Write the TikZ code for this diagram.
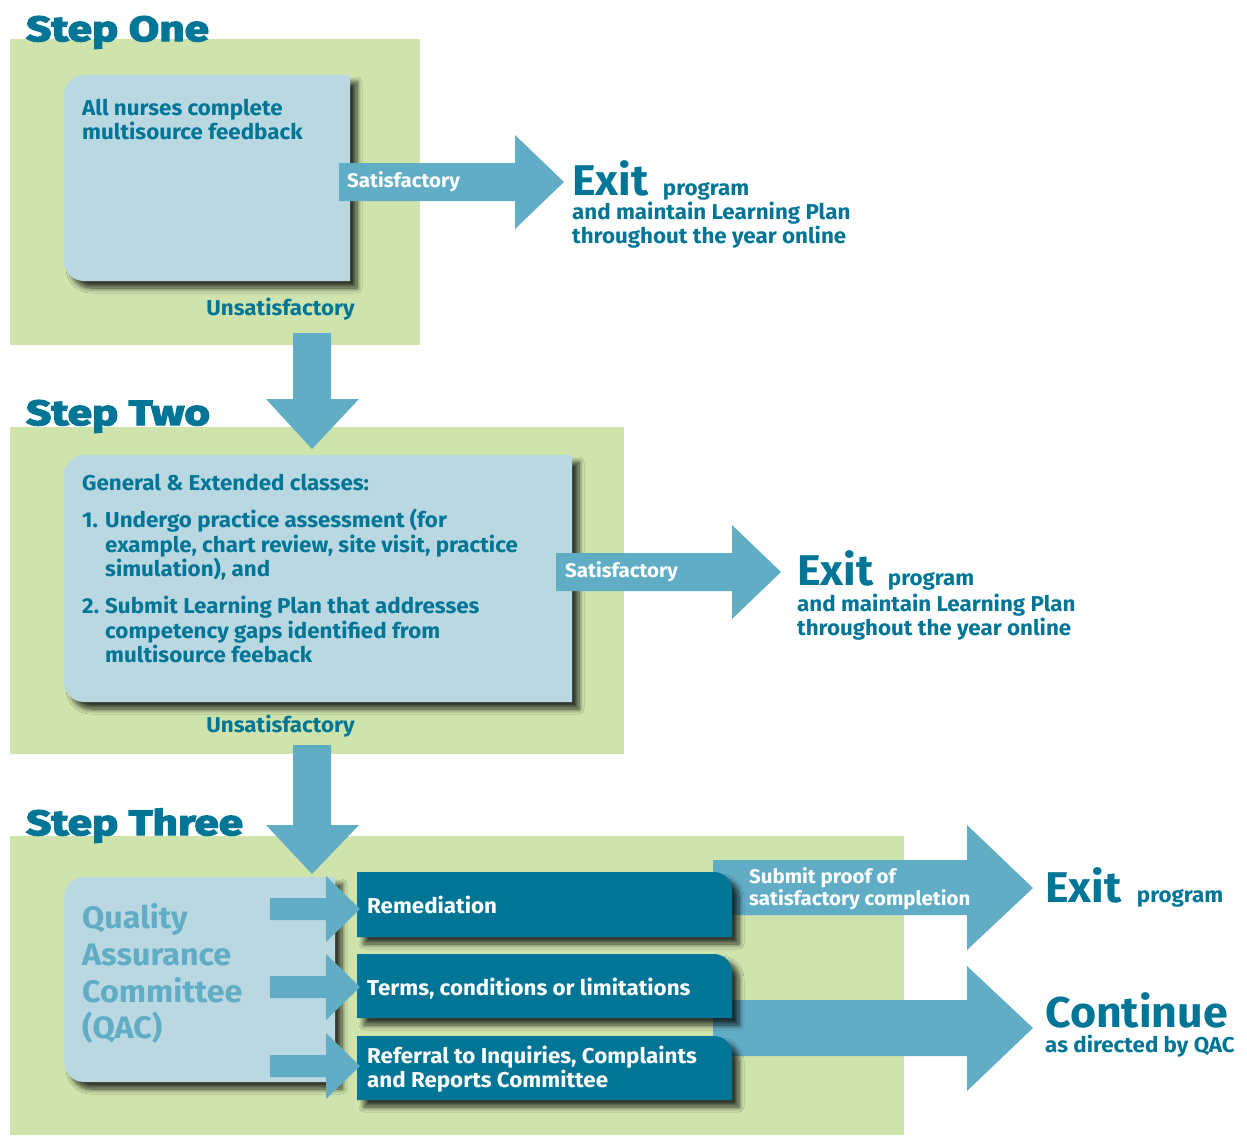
\documentclass[tikz,border=0pt]{standalone}
\usepackage{fontspec}
\setmainfont{Fira Sans}[FakeStretch=1.04]
\newfontfamily\stepfont{Fira Sans}[FakeBold=4, FakeStretch=1.26]
\usetikzlibrary{shadows.blur}

\definecolor{stepgreen}{HTML}{CFE4AD}
\definecolor{cardblue}{HTML}{B9D8E2}
\definecolor{arrowblue}{HTML}{62ADC6}
\definecolor{qacteal}{HTML}{007596}

\begin{document}
\begin{tikzpicture}[x=1pt, y=-1pt,
  panel/.style={fill=stepgreen},
  arr/.style={fill=arrowblue},
  shad/.style={blur shadow={shadow xshift=7pt, shadow yshift=-7pt, shadow blur radius=5pt, shadow blur steps=10, shadow opacity=75}},
  card/.style={fill=cardblue, shad},
  dcard/.style={fill=qacteal, shad},
  txt/.style={anchor=base west, inner sep=0pt, text=qacteal, font=\fontsize{21.5}{24}\selectfont\bfseries},
  wtxt/.style={txt, text=white},
  atxt/.style={wtxt, font=\fontsize{19.7}{22}\selectfont\bfseries},
  qtxt/.style={txt, text=arrowblue, font=\fontsize{31}{37}\selectfont\bfseries},
  big/.style={txt, font=\fontsize{43}{48}\selectfont\bfseries},
  steptitle/.style={txt, font=\stepfont\fontsize{35}{40}\selectfont\bfseries}]
  \useasboundingbox (0,0) rectangle (1247,1135);

  % step panels
  \fill[panel] (10,39) rectangle (420,345);
  \fill[panel] (10,427) rectangle (624,754);
  \fill[panel] (10,836) rectangle (904,1135);

  % step one
  \fill[card] (350,75) -- (84,75) .. controls (73,75) and (64,84) .. (64,95) -- (64,261)
    .. controls (64,272) and (73,281) .. (84,281) -- (350,281) -- cycle;
  \node[txt] (s1a) at (82,115) {All nurses complete};
  \node[txt] (s1b) at (82,139) {multisource feedback};
  \fill[arr] (339,163) -- (515,163) -- (515,135) -- (564,182) -- (515,229) -- (515,201) -- (339,201) -- cycle;
  \node[atxt] (sat1) at (347,187) {Satisfactory};
  \node[big] (exit1) at (572,195) {Exit};
  \node[txt, anchor=base west] (prog1) at ([xshift=14pt]exit1.base east) {program};
  \node[txt] (keep1) at (572,219) {and maintain Learning Plan};
  \node[txt] (year1) at (572,243) {throughout the year online};
  \node[txt, anchor=base] (uns1) at (280.5,315) {Unsatisfactory};
  \fill[arr] (293,333) -- (331,333) -- (331,399) -- (359,399) -- (312,449) -- (266,399) -- (293,399) -- cycle;

  % step two
  \fill[card] (572,455) -- (84,455) .. controls (73,455) and (64,464) .. (64,475) -- (64,682)
    .. controls (64,693) and (73,702) .. (84,702) -- (572,702) -- cycle;
  \node[txt] (cls) at (82,490) {General \& Extended classes:};
  \node[txt] (n1) at (82,527) {1.};
  \node[txt] (i1a) at (105,527) {Undergo practice assessment (for};
  \node[txt] (i1b) at (105,552) {example, chart review, site visit, practice};
  \node[txt] (i1c) at (105,576) {simulation), and};
  \node[txt] (n2) at (82,613) {2.};
  \node[txt] (i2a) at (105,613) {Submit Learning Plan that addresses};
  \node[txt] (i2b) at (105,638) {competency gaps identified from};
  \node[txt] (i2c) at (105,662) {multisource feeback};
  \fill[arr] (556,553) -- (732,553) -- (732,525) -- (781,572) -- (732,619) -- (732,591) -- (556,591) -- cycle;
  \node[atxt] (sat2) at (565,577) {Satisfactory};
  \node[big] (exit2) at (797,585) {Exit};
  \node[txt, anchor=base west] (prog2) at ([xshift=14pt]exit2.base east) {program};
  \node[txt] (keep2) at (797,611) {and maintain Learning Plan};
  \node[txt] (year2) at (797,635) {throughout the year online};
  \node[txt, anchor=base] (uns2) at (280.5,732) {Unsatisfactory};
  \fill[arr] (293,745) -- (331,745) -- (331,825) -- (359,825) -- (312,874) -- (266,825) -- (293,825) -- cycle;

  % step three
  \fill[card] (335,877) -- (84,877) .. controls (73,877) and (64,886) .. (64,897) -- (64,1062)
    .. controls (64,1073) and (73,1082) .. (84,1082) -- (335,1082) -- cycle;
  \node[qtxt] (q1) at (82,928) {Quality};
  \node[qtxt] (q2) at (82,965) {Assurance};
  \node[qtxt] (q3) at (82,1002) {Committee};
  \node[qtxt] (q4) at (82,1038) {(QAC)};
  \fill[arr] (713,860) -- (967,860) -- (967,825) -- (1033,888) -- (967,950) -- (967,915) -- (713,915) -- cycle;
  \fill[arr] (713,1000) -- (967,1000) -- (967,966) -- (1033,1028) -- (967,1091) -- (967,1056) -- (713,1056) -- cycle;
  \foreach \t/\b in {872/937, 954/1018, 1036/1100}
    \fill[dcard] (357,\t) -- (714,\t) .. controls (724,\t) and (732,\t+8) .. (732,\t+18) -- (732,\b) -- (357,\b) -- cycle;
  \foreach \t/\m/\b in {876/898/920, 954/976/998, 1033/1055/1077}
    \fill[arr] (270,\m) -- (326,\m) -- (326,\t) -- (360,{(\t+\b+22)/2}) -- (326,\b+22) -- (326,\b) -- (270,\b) -- cycle;
  \node[wtxt] (rem) at (367,913) {Remediation};
  \node[wtxt] (tcl) at (367,995) {Terms, conditions or limitations};
  \node[wtxt] (icr1) at (367,1063) {Referral to Inquiries, Complaints};
  \node[wtxt] (icr2) at (367,1087) {and Reports Committee};
  \node[atxt] (proof1) at (749,883) {Submit proof of};
  \node[atxt] (proof2) at (749,905) {satisfactory completion};
  \node[big] (exit3) at (1045,902) {Exit};
  \node[txt, anchor=base west] (prog3) at ([xshift=15pt]exit3.base east) {program};
  \node[big] (cont) at (1045,1027) {Continue};
  \node[txt] (qacdir) at (1045,1052) {as directed by QAC};

  % step titles
  \node[steptitle] (t1) at (26,41) {Step One};
  \node[steptitle] (t2) at (26,425) {Step Two};
  \node[steptitle] (t3) at (26,835) {Step Three};
\end{tikzpicture}
\end{document}
